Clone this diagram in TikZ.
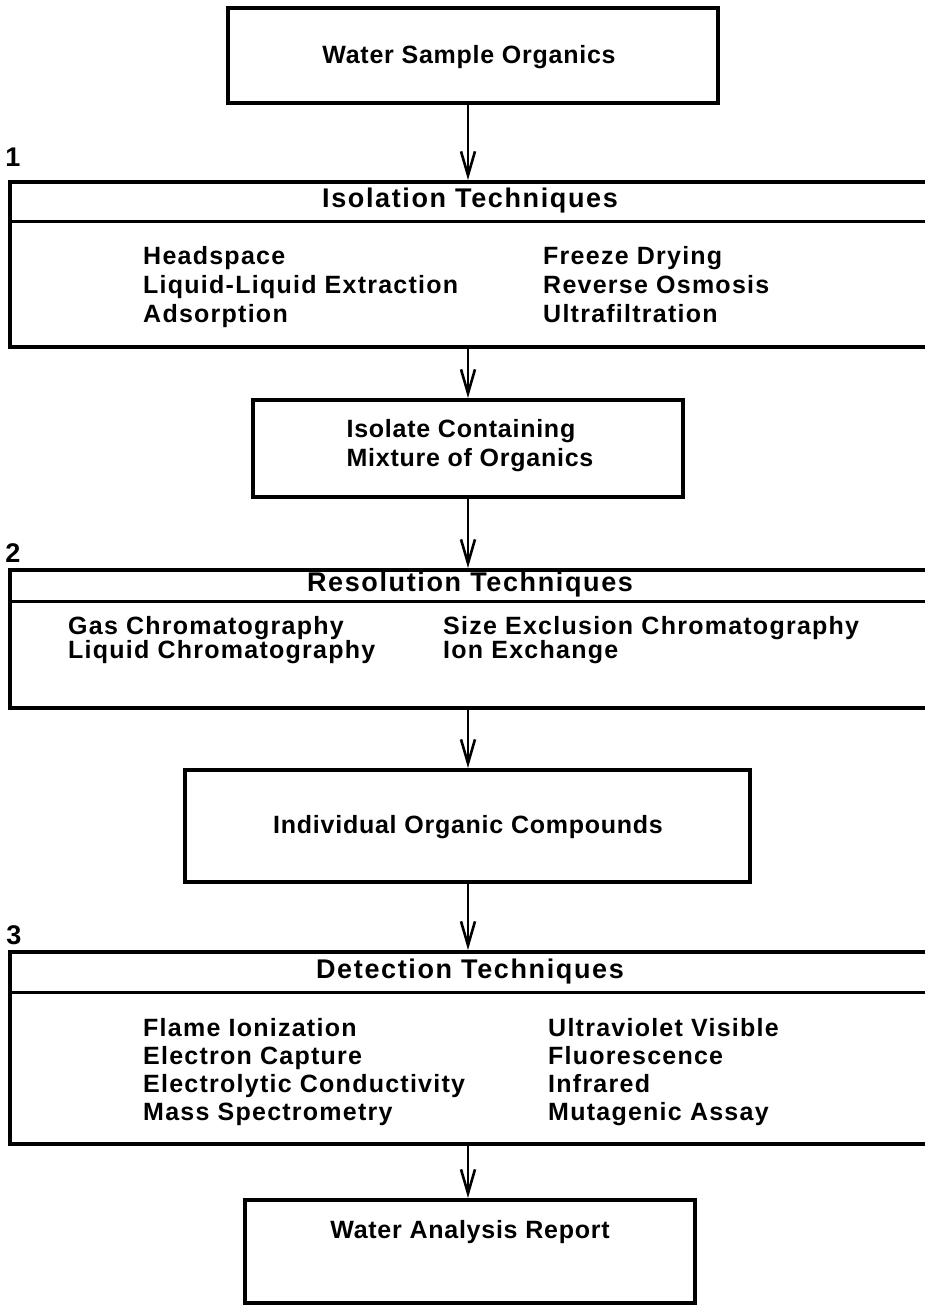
\documentclass[tikz,border=0pt]{standalone}
\usepackage{fontspec}
\setmainfont{Liberation Sans}
\newfontfamily\fitem{Liberation Sans}[LetterSpace=5]
\newfontfamily\ftitle{Liberation Sans}[LetterSpace=6]
\newfontfamily\fmain{Liberation Sans}[LetterSpace=3]
\usetikzlibrary{arrows.meta}
\begin{document}
\begin{tikzpicture}[x=1pt,y=-1pt,
  lbl/.style={font=\fitem\fontsize{25}{29}\selectfont\bfseries, inner sep=0pt, text height=18pt, text depth=5pt},
  ttl/.style={font=\ftitle\fontsize{27}{31}\selectfont\bfseries, inner sep=0pt, text height=19pt, text depth=5pt},
  mainlbl/.style={font=\fmain\fontsize{25}{29}\selectfont\bfseries, inner sep=0pt},
  frame/.style={draw, line width=4pt, inner sep=0pt},
  flow/.style={line width=1.6pt, -{Straight Barb[length=24pt,width=14pt,line width=2.6pt]}},
  num/.style={font=\fontsize{27}{31}\selectfont\bfseries, inner sep=0pt}]
\useasboundingbox (0,0) rectangle (924,1305);
% top box
\node[frame, minimum width=490pt, minimum height=95pt] (wso) at (473,55.5) {};
\node[mainlbl] (wsot) at (469,57) {Water Sample Organics};
% section 1
\node[num] (n1) at (13,157) {1};
\node[frame, anchor=north west, minimum width=922pt, minimum height=165pt] (iso) at (8,180) {};
\draw[line width=3pt] (iso.west |- 0,222) coordinate (isodl) -- (iso.east |- 0,222) coordinate (isodr);
\node[ttl] (isot) at (470,201) {Isolation Techniques};
\node[lbl, anchor=west] (i1) at (143,258) {Headspace};
\node[lbl, anchor=west] (i2) at (143,287) {Liquid-Liquid Extraction};
\node[lbl, anchor=west] (i3) at (143,316) {Adsorption};
\node[lbl, anchor=west] (i4) at (543,258) {Freeze Drying};
\node[lbl, anchor=west] (i5) at (543,287) {Reverse Osmosis};
\node[lbl, anchor=west] (i6) at (543,316) {Ultrafiltration};
% isolate box
\node[frame, minimum width=430pt, minimum height=97pt] (isl) at (468,448.5) {};
\node[mainlbl, align=left] (islt) at (470,446) {Isolate Containing\\Mixture of Organics};
% section 2
\node[num] (n2) at (13,553) {2};
\node[frame, anchor=north west, minimum width=922pt, minimum height=138pt] (res) at (8,568) {};
\draw[line width=3pt] (res.west |- 0,601) coordinate (resdl) -- (res.east |- 0,601) coordinate (resdr);
\node[ttl] (rest) at (470,584) {Resolution Techniques};
\node[lbl, anchor=west] (r1) at (68,628) {Gas Chromatography};
\node[lbl, anchor=west] (r2) at (68,652) {Liquid Chromatography};
\node[lbl, anchor=west] (r3) at (443,628) {Size Exclusion Chromatography};
\node[lbl, anchor=west] (r4) at (443,652) {Ion Exchange};
% individual box
\node[frame, minimum width=565pt, minimum height=112pt] (ind) at (467.5,826) {};
\node[mainlbl] (indt) at (468,827) {Individual Organic Compounds};
% section 3
\node[num] (n3) at (14,935) {3};
\node[frame, anchor=north west, minimum width=922pt, minimum height=192pt] (det) at (8,950) {};
\draw[line width=3pt] (det.west |- 0,992) coordinate (detdl) -- (det.east |- 0,992) coordinate (detdr);
\node[ttl] (dett) at (470,971) {Detection Techniques};
\node[lbl, anchor=west] (d1) at (143,1030) {Flame Ionization};
\node[lbl, anchor=west] (d2) at (143,1058) {Electron Capture};
\node[lbl, anchor=west] (d3) at (143,1086) {Electrolytic Conductivity};
\node[lbl, anchor=west] (d4) at (143,1114) {Mass Spectrometry};
\node[lbl, anchor=west] (d5) at (548,1030) {Ultraviolet Visible};
\node[lbl, anchor=west] (d6) at (548,1058) {Fluorescence};
\node[lbl, anchor=west] (d7) at (548,1086) {Infrared};
\node[lbl, anchor=west] (d8) at (548,1114) {Mutagenic Assay};
% report box
\node[frame, minimum width=450pt, minimum height=103pt] (rep) at (470,1251.5) {};
\node[mainlbl] (rept) at (470,1232) {Water Analysis Report};
% arrows
\coordinate (ax) at (468,0);
\draw[flow] (wso.south -| ax) -- (iso.north -| ax);
\draw[flow] (iso.south -| ax) -- (isl.north -| ax);
\draw[flow] (isl.south -| ax) -- (res.north -| ax);
\draw[flow] (res.south -| ax) -- (ind.north -| ax);
\draw[flow] (ind.south -| ax) -- (det.north -| ax);
\draw[flow] (det.south -| ax) -- (rep.north -| ax);
\end{tikzpicture}
\end{document}
